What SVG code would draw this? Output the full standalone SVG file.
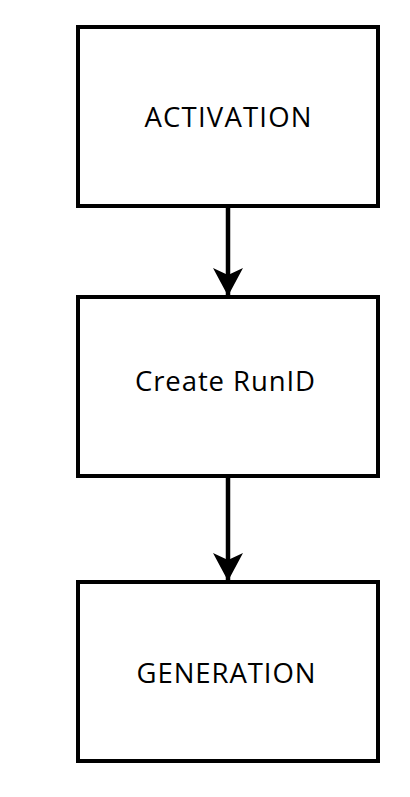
<svg xmlns="http://www.w3.org/2000/svg" width="410" height="797" viewBox="0 0 410 797">
<style>
.box{fill:#fff;stroke:#000;stroke-width:4}
.lbl{font-family:"Open Sans","Noto Sans",sans-serif;font-size:27.5px;fill:#000}
.edge{stroke:#000;stroke-width:4.5;fill:none}
</style>
<defs>
<marker id="arr" markerUnits="userSpaceOnUse" markerWidth="30" markerHeight="30" refX="28" refY="15" orient="auto" viewBox="0 0 30 30">
<path d="M0,0 L28,15 L0,30 L7,15 Z" fill="#000"/>
</marker>
</defs>
<rect width="410" height="797" fill="#fff"/>
<g id="connectors">
<path class="edge" d="M228,207 V296" marker-end="url(#arr)"/>
<path class="edge" d="M228,477 V581" marker-end="url(#arr)"/>
</g>
<g id="activation"><rect class="box" x="78" y="27" width="300" height="179"/><text class="lbl" x="144.5" y="127" textLength="167" lengthAdjust="spacing">ACTIVATION</text></g>
<g id="create-runid"><rect class="box" x="78" y="297" width="300" height="179"/><text class="lbl" x="135" y="391" textLength="180" lengthAdjust="spacing">Create RunID</text></g>
<g id="generation"><rect class="box" x="78" y="582" width="300" height="179"/><text class="lbl" x="136.5" y="683" textLength="179" lengthAdjust="spacing">GENERATION</text></g>
</svg>
